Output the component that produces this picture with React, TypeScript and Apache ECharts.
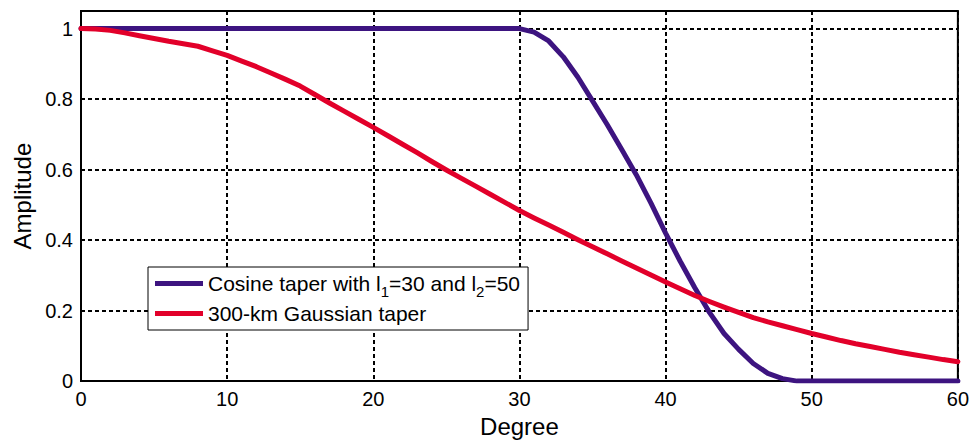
import React, { useEffect, useRef } from "react";
import * as echarts from "echarts";

const degrees = [
  0, 1, 2, 3, 4, 5, 6, 7, 8, 9, 10, 11, 12, 13, 14, 15, 16, 17, 18, 19, 20,
  21, 22, 23, 24, 25, 26, 27, 28, 29, 30, 31, 32, 33, 34, 35, 36, 37, 38, 39, 40,
  41, 42, 43, 44, 45, 46, 47, 48, 49, 50, 51, 52, 53, 54, 55, 56, 57, 58, 59, 60,
];

const cosineTaper = [
  1, 1, 1, 1, 1, 1, 1, 1, 1, 1, 1, 1, 1, 1, 1, 1, 1, 1, 1, 1, 1,
  1, 1, 1, 1, 1, 1, 1, 1, 1, 1, 0.99, 0.965, 0.92, 0.862, 0.795, 0.728, 0.657, 0.585, 0.505, 0.42,
  0.34, 0.265, 0.195, 0.135, 0.09, 0.05, 0.022, 0.007, 0, 0, 0, 0, 0, 0, 0, 0, 0, 0, 0, 0,
];

const gaussianTaper = [
  1.0, 0.999, 0.995, 0.988, 0.98, 0.972, 0.964, 0.957, 0.95, 0.937, 0.924,
  0.908, 0.892, 0.874, 0.856, 0.837, 0.813, 0.789, 0.766, 0.743, 0.72,
  0.696, 0.672, 0.648, 0.623, 0.599, 0.576, 0.553, 0.53, 0.507, 0.484,
  0.463, 0.443, 0.422, 0.401, 0.381, 0.361, 0.341, 0.321, 0.301, 0.281,
  0.262, 0.243, 0.226, 0.21, 0.195, 0.18, 0.168, 0.157, 0.146, 0.135,
  0.125, 0.115, 0.106, 0.098, 0.09, 0.082, 0.075, 0.068, 0.061, 0.055,
];

const xTicks = [0, 10, 20, 30, 40, 50, 60];
const yTickLabels = ["0", "0.2", "0.4", "0.6", "0.8", "1"];

const seriesNames = ["Cosine taper with l1=30 and l2=50", "300-km Gaussian taper"];
const FONT = "'Liberation Sans', Arial, Helvetica, sans-serif";

export default function App() {
  const ref = useRef<HTMLDivElement>(null);
  useEffect(() => {
    if (!ref.current) return;
    const chart = echarts.init(ref.current, null, { renderer: "svg" });
    const dashed = { show: true, lineStyle: { color: "#000", type: [4, 3], width: 2 } };
    chart.setOption({
      animation: false,
      backgroundColor: "#fff",
      grid: {
        left: 81,
        right: 10,
        top: 11,
        bottom: 59,
        show: true,
        borderColor: "#000",
        borderWidth: 2,
        backgroundColor: "transparent",
      },
      xAxis: {
        type: "value",
        min: 0,
        max: 60,
        interval: 10,
        name: "Degree",
        nameLocation: "middle",
        nameGap: 31,
        nameTextStyle: { fontFamily: FONT, fontSize: 24, color: "#000" },
        axisLine: { show: true, lineStyle: { color: "#000", width: 2 } },
        axisTick: { show: false },
        axisLabel: {
          fontFamily: FONT,
          fontSize: 20,
          color: "#000",
          margin: 8,
          formatter: (v: number) => (xTicks.includes(v) ? String(v) : ""),
        },
        splitLine: dashed,
      },
      yAxis: {
        type: "value",
        min: 0,
        max: 1.05,
        interval: 0.2,
        name: "Amplitude",
        nameLocation: "middle",
        nameGap: 47,
        nameTextStyle: { fontFamily: FONT, fontSize: 24, color: "#000" },
        axisLine: { show: true, lineStyle: { color: "#000", width: 2 } },
        axisTick: { show: false },
        axisLabel: {
          fontFamily: FONT,
          fontSize: 20,
          color: "#000",
          margin: 8,
          showMaxLabel: false,
          formatter: (v: number) => {
            const i = Math.round(v / 0.2);
            return Math.abs(v - i * 0.2) < 1e-6 && i < yTickLabels.length ? yTickLabels[i] : "";
          },
        },
        splitLine: dashed,
      },
      legend: {
        orient: "vertical",
        left: 148,
        top: 267,
        backgroundColor: "#fff",
        borderColor: "#000",
        borderWidth: 1,
        borderRadius: 0,
        padding: [6, 8, 6, 7],
        itemGap: 4,
        itemWidth: 48,
        itemHeight: 5,
        icon: "rect",
        data: seriesNames,
        formatter: (name: string) =>
          name === seriesNames[0]
            ? "Cosine taper with l{s|1}=30 and l{s|2}=50"
            : name,
        textStyle: {
          fontFamily: FONT,
          fontSize: 21,
          color: "#000",
          padding: [0, 0, 0, 0],
          rich: {
            s: { fontFamily: FONT, fontSize: 15, color: "#000", padding: [16, 0, 0, 0] },
          },
        },
      },
      series: [
        {
          name: seriesNames[0],
          type: "line",
          showSymbol: false,
          symbol: "none",
          data: degrees.map((d, i) => [d, cosineTaper[i]]),
          lineStyle: { color: "#3d1480", width: 5, cap: "round", join: "round" },
          itemStyle: { color: "#3d1480" },
          z: 3,
        },
        {
          name: seriesNames[1],
          type: "line",
          showSymbol: false,
          symbol: "none",
          data: degrees.map((d, i) => [d, gaussianTaper[i]]),
          lineStyle: { color: "#e2002a", width: 5, cap: "round", join: "round" },
          itemStyle: { color: "#e2002a" },
          z: 4,
        },
      ],
    });
    return () => chart.dispose();
  }, []);
  return <div ref={ref} style={{ width: 972, height: 443, position: "absolute", left: 0, top: 0 }} />;
}
